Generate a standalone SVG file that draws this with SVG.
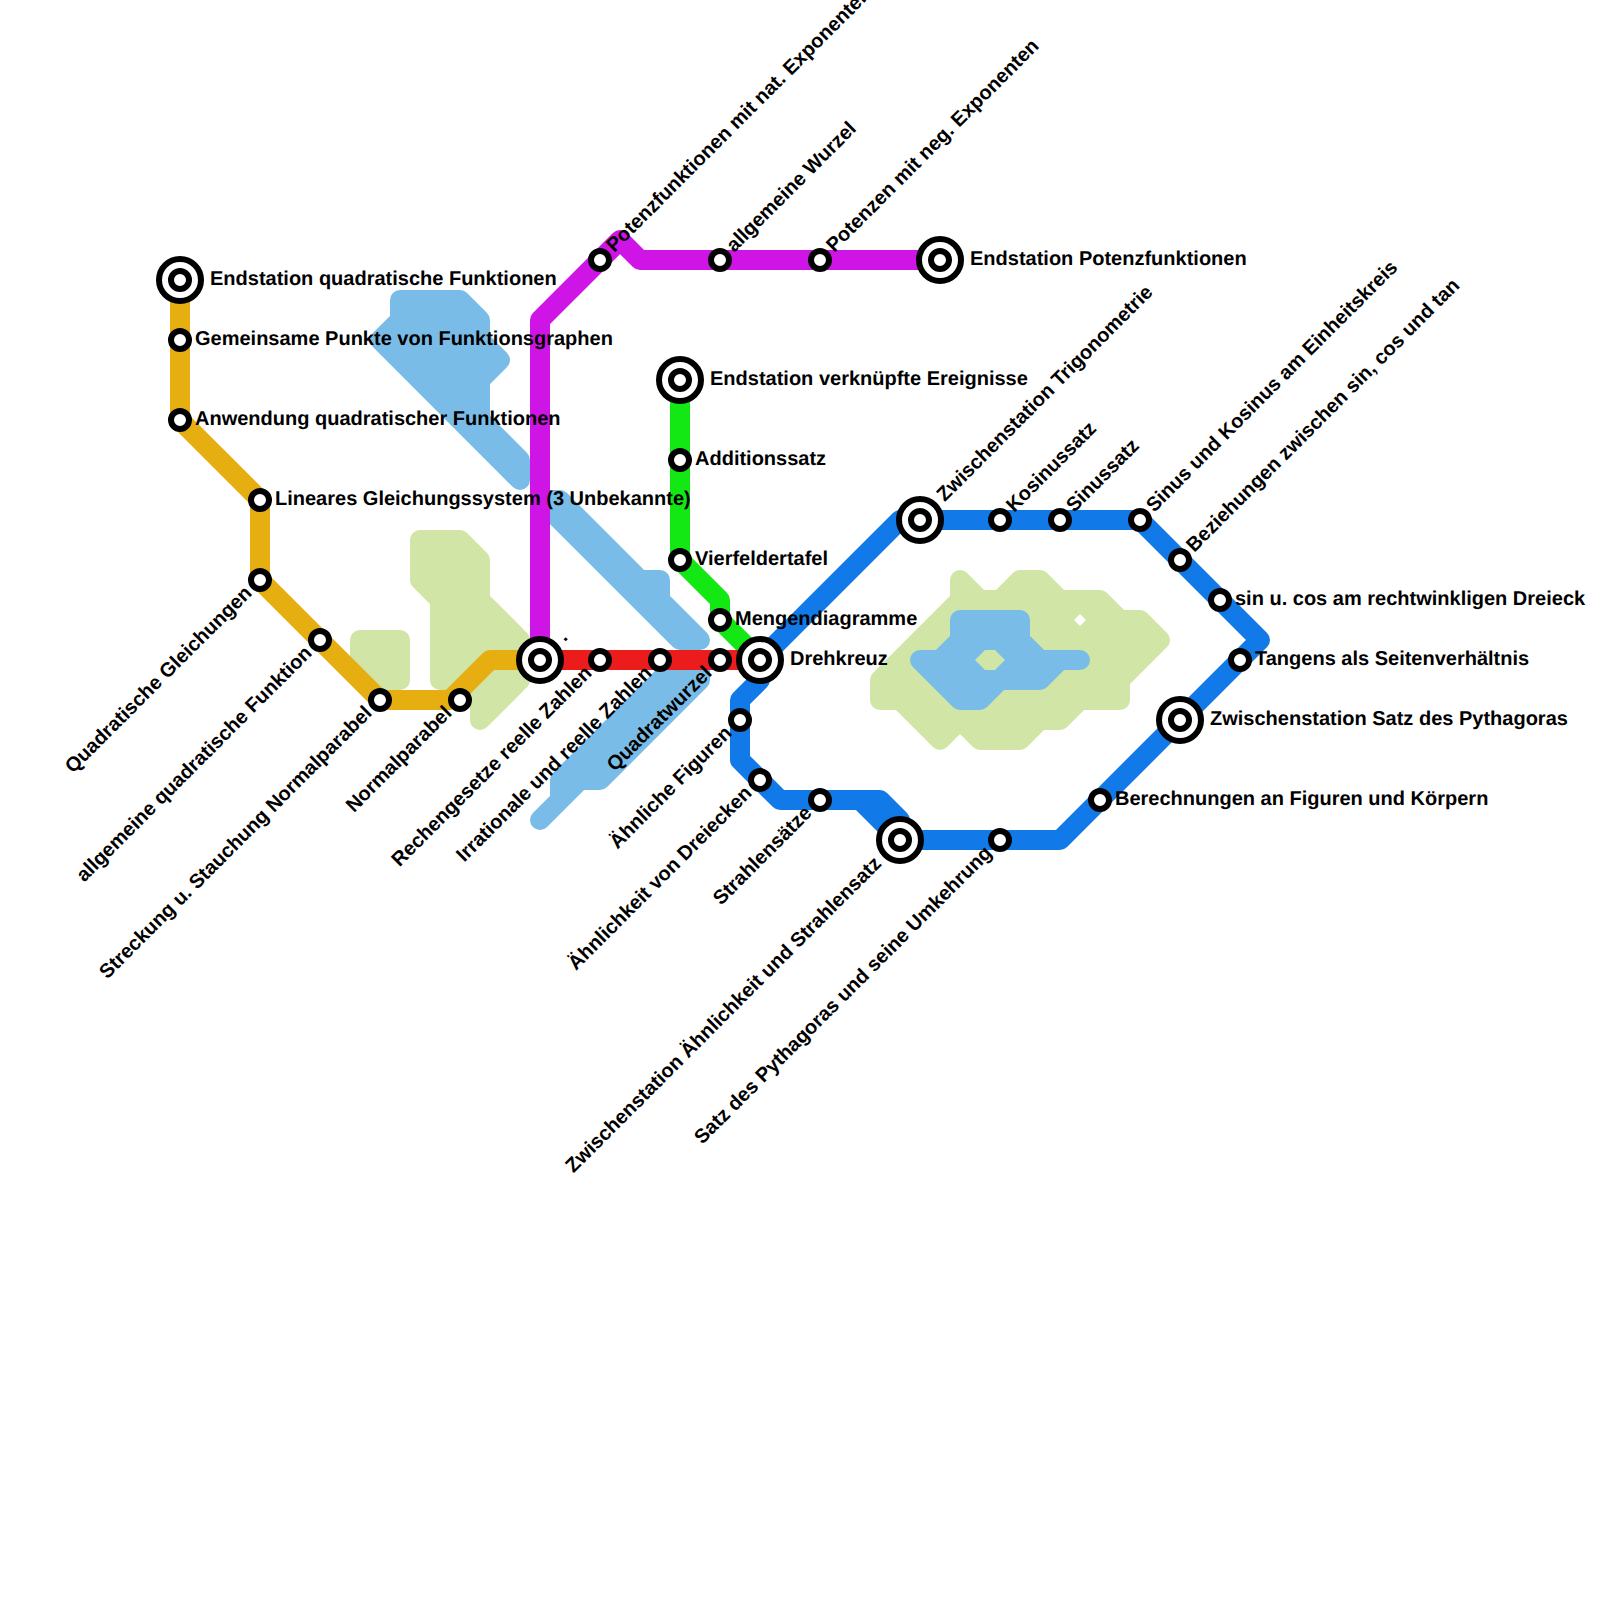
<svg xmlns="http://www.w3.org/2000/svg" width="1600" height="1600" viewBox="0 0 1600 1600">
<style>
text{font-family:"Liberation Sans",Arial,sans-serif;font-weight:700;font-size:20px;fill:#000;text-rendering:geometricPrecision}
.l{fill:none;stroke-width:20;stroke-linejoin:round;stroke-linecap:round}
.sky{fill:#79bce8;stroke:#79bce8;stroke-width:20;stroke-linejoin:round}
.pale{fill:#d0e5a6;stroke:#d0e5a6;stroke-width:20;stroke-linejoin:round}
.st{fill:#fff;stroke:#000;stroke-width:6}
.e{text-anchor:end}
</style>
<rect width="1600" height="1600" fill="#fff"/>
<g id="areas">
<polygon class="pale" points="420,540 460,540 480,560 480,600 520,640 520,680 480,720 480,680 440,680 440,600 420,580"/>
<polygon class="pale" points="360,640 400,640 400,680 380,680 360,660"/>
<polygon class="pale" points="960,580 980,600 1000,600 1020,580 1040,580 1060,600 1100,600 1120,620 1140,620 1160,640 1120,680 1120,700 1080,700 1060,720 1040,720 1020,740 980,740 960,720 940,740 900,700 880,700 880,680 960,600"/>
<polygon fill="#fff" points="1080,614 1086,620 1080,626 1074,620"/>
<polygon class="sky" points="400,300 460,300 480,320 480,340 500,360 480,380 480,420 520,460 520,480 380,340 400,320"/>
<polygon class="sky" points="540,500 560,500 640,580 660,580 660,600 700,640 680,640"/>
<polygon class="sky" points="540,820 580,780 600,780 700,680 700,660 680,660 560,780 560,800"/>
<polygon class="sky" points="960,620 1020,620 1020,640 1040,660 1080,660 1060,660 1040,680 1000,680 980,700 960,700 920,660 940,660 960,640"/>
<polygon fill="#d0e5a6" points="975,660 985,650 995,650 1005,660 995,670 985,670"/>
</g>
<g id="connectors">
<path class="l" stroke="#e6ae10" d="M180 280V420L260 500V580L380 700H450L490 660H540"/>
<path class="l" stroke="#cf14e6" d="M540 660V320L620 240L640 260H940"/>
<path class="l" stroke="#14e814" d="M680 380V560L720 600V620L760 660"/>
<path class="l" stroke="#ec1c1c" d="M540 660H760"/>
<path class="l" stroke="#1279e8" d="M760 660L900 520H1140L1260 640L1060 840H900L860 800H780L740 760V700L760 680V660M860 800H880L900 820V840"/>
</g>
<g id="nodes">
<g id="n01"><circle class="st" cx="180" cy="280" r="21"/><circle class="st" cx="180" cy="280" r="9"/><text x="210" y="285">Endstation quadratische Funktionen</text></g>
<g id="n02"><circle class="st" cx="180" cy="340" r="9"/><text x="195" y="345">Gemeinsame Punkte von Funktionsgraphen</text></g>
<g id="n03"><circle class="st" cx="180" cy="420" r="9"/><text x="195" y="425">Anwendung quadratischer Funktionen</text></g>
<g id="n04"><circle class="st" cx="260" cy="500" r="9"/><text x="275" y="505">Lineares Gleichungssystem (3 Unbekannte)</text></g>
<g id="n05"><circle class="st" cx="260" cy="580" r="9"/><text class="e" transform="translate(260 580) rotate(-45)" x="-15" y="5">Quadratische Gleichungen</text></g>
<g id="n06"><circle class="st" cx="320" cy="640" r="9"/><text class="e" transform="translate(320 640) rotate(-45)" x="-15" y="5">allgemeine quadratische Funktion</text></g>
<g id="n07"><circle class="st" cx="380" cy="700" r="9"/><text class="e" transform="translate(380 700) rotate(-45)" x="-15" y="5">Streckung u. Stauchung Normalparabel</text></g>
<g id="n08"><circle class="st" cx="460" cy="700" r="9"/><text class="e" transform="translate(460 700) rotate(-45)" x="-15" y="5">Normalparabel</text></g>
<g id="n09"><circle class="st" cx="540" cy="660" r="21"/><circle class="st" cx="540" cy="660" r="9"/><text transform="translate(540 660) rotate(-45)" x="30" y="5">.</text></g>
<g id="n10"><circle class="st" cx="600" cy="660" r="9"/><text class="e" transform="translate(600 660) rotate(-45)" x="-15" y="5">Rechengesetze reelle Zahlen</text></g>
<g id="n11"><circle class="st" cx="660" cy="660" r="9"/><text class="e" transform="translate(660 660) rotate(-45)" x="-15" y="5">Irrationale und reelle Zahlen</text></g>
<g id="n12"><circle class="st" cx="720" cy="660" r="9"/><text class="e" transform="translate(720 660) rotate(-45)" x="-15" y="5">Quadratwurzel</text></g>
<g id="n13"><circle class="st" cx="760" cy="660" r="21"/><circle class="st" cx="760" cy="660" r="9"/><text x="790" y="665">Drehkreuz</text></g>
<g id="n14"><circle class="st" cx="600" cy="260" r="9"/><text transform="translate(600 260) rotate(-45)" x="15" y="5">Potenzfunktionen mit nat. Exponenten</text></g>
<g id="n15"><circle class="st" cx="720" cy="260" r="9"/><text transform="translate(720 260) rotate(-45)" x="15" y="5">allgemeine Wurzel</text></g>
<g id="n16"><circle class="st" cx="820" cy="260" r="9"/><text transform="translate(820 260) rotate(-45)" x="15" y="5">Potenzen mit neg. Exponenten</text></g>
<g id="n17"><circle class="st" cx="940" cy="260" r="21"/><circle class="st" cx="940" cy="260" r="9"/><text x="970" y="265">Endstation Potenzfunktionen</text></g>
<g id="n18"><circle class="st" cx="680" cy="380" r="21"/><circle class="st" cx="680" cy="380" r="9"/><text x="710" y="385">Endstation verknüpfte Ereignisse</text></g>
<g id="n19"><circle class="st" cx="680" cy="460" r="9"/><text x="695" y="465">Additionssatz</text></g>
<g id="n20"><circle class="st" cx="680" cy="560" r="9"/><text x="695" y="565">Vierfeldertafel</text></g>
<g id="n21"><circle class="st" cx="720" cy="620" r="9"/><text x="735" y="625">Mengendiagramme</text></g>
<g id="n22"><circle class="st" cx="920" cy="520" r="21"/><circle class="st" cx="920" cy="520" r="9"/><text transform="translate(920 520) rotate(-45)" x="30" y="5">Zwischenstation Trigonometrie</text></g>
<g id="n23"><circle class="st" cx="1000" cy="520" r="9"/><text transform="translate(1000 520) rotate(-45)" x="15" y="5">Kosinussatz</text></g>
<g id="n24"><circle class="st" cx="1060" cy="520" r="9"/><text transform="translate(1060 520) rotate(-45)" x="15" y="5">Sinussatz</text></g>
<g id="n25"><circle class="st" cx="1140" cy="520" r="9"/><text transform="translate(1140 520) rotate(-45)" x="15" y="5">Sinus und Kosinus am Einheitskreis</text></g>
<g id="n26"><circle class="st" cx="1180" cy="560" r="9"/><text transform="translate(1180 560) rotate(-45)" x="15" y="5">Beziehungen zwischen sin, cos und tan</text></g>
<g id="n27"><circle class="st" cx="1220" cy="600" r="9"/><text x="1235" y="605">sin u. cos am rechtwinkligen Dreieck</text></g>
<g id="n28"><circle class="st" cx="1240" cy="660" r="9"/><text x="1255" y="665">Tangens als Seitenverhältnis</text></g>
<g id="n29"><circle class="st" cx="1180" cy="720" r="21"/><circle class="st" cx="1180" cy="720" r="9"/><text x="1210" y="725">Zwischenstation Satz des Pythagoras</text></g>
<g id="n30"><circle class="st" cx="1100" cy="800" r="9"/><text x="1115" y="805">Berechnungen an Figuren und Körpern</text></g>
<g id="n31"><circle class="st" cx="1000" cy="840" r="9"/><text class="e" transform="translate(1000 840) rotate(-45)" x="-15" y="5">Satz des Pythagoras und seine Umkehrung</text></g>
<g id="n32"><circle class="st" cx="900" cy="840" r="21"/><circle class="st" cx="900" cy="840" r="9"/><text class="e" transform="translate(900 840) rotate(-45)" x="-30" y="5">Zwischenstation Ähnlichkeit und Strahlensatz</text></g>
<g id="n33"><circle class="st" cx="820" cy="800" r="9"/><text class="e" transform="translate(820 800) rotate(-45)" x="-15" y="5">Strahlensätze</text></g>
<g id="n34"><circle class="st" cx="760" cy="780" r="9"/><text class="e" transform="translate(760 780) rotate(-45)" x="-15" y="5">Ähnlichkeit von Dreiecken</text></g>
<g id="n35"><circle class="st" cx="740" cy="720" r="9"/><text class="e" transform="translate(740 720) rotate(-45)" x="-15" y="5">Ähnliche Figuren</text></g>
</g>
</svg>
